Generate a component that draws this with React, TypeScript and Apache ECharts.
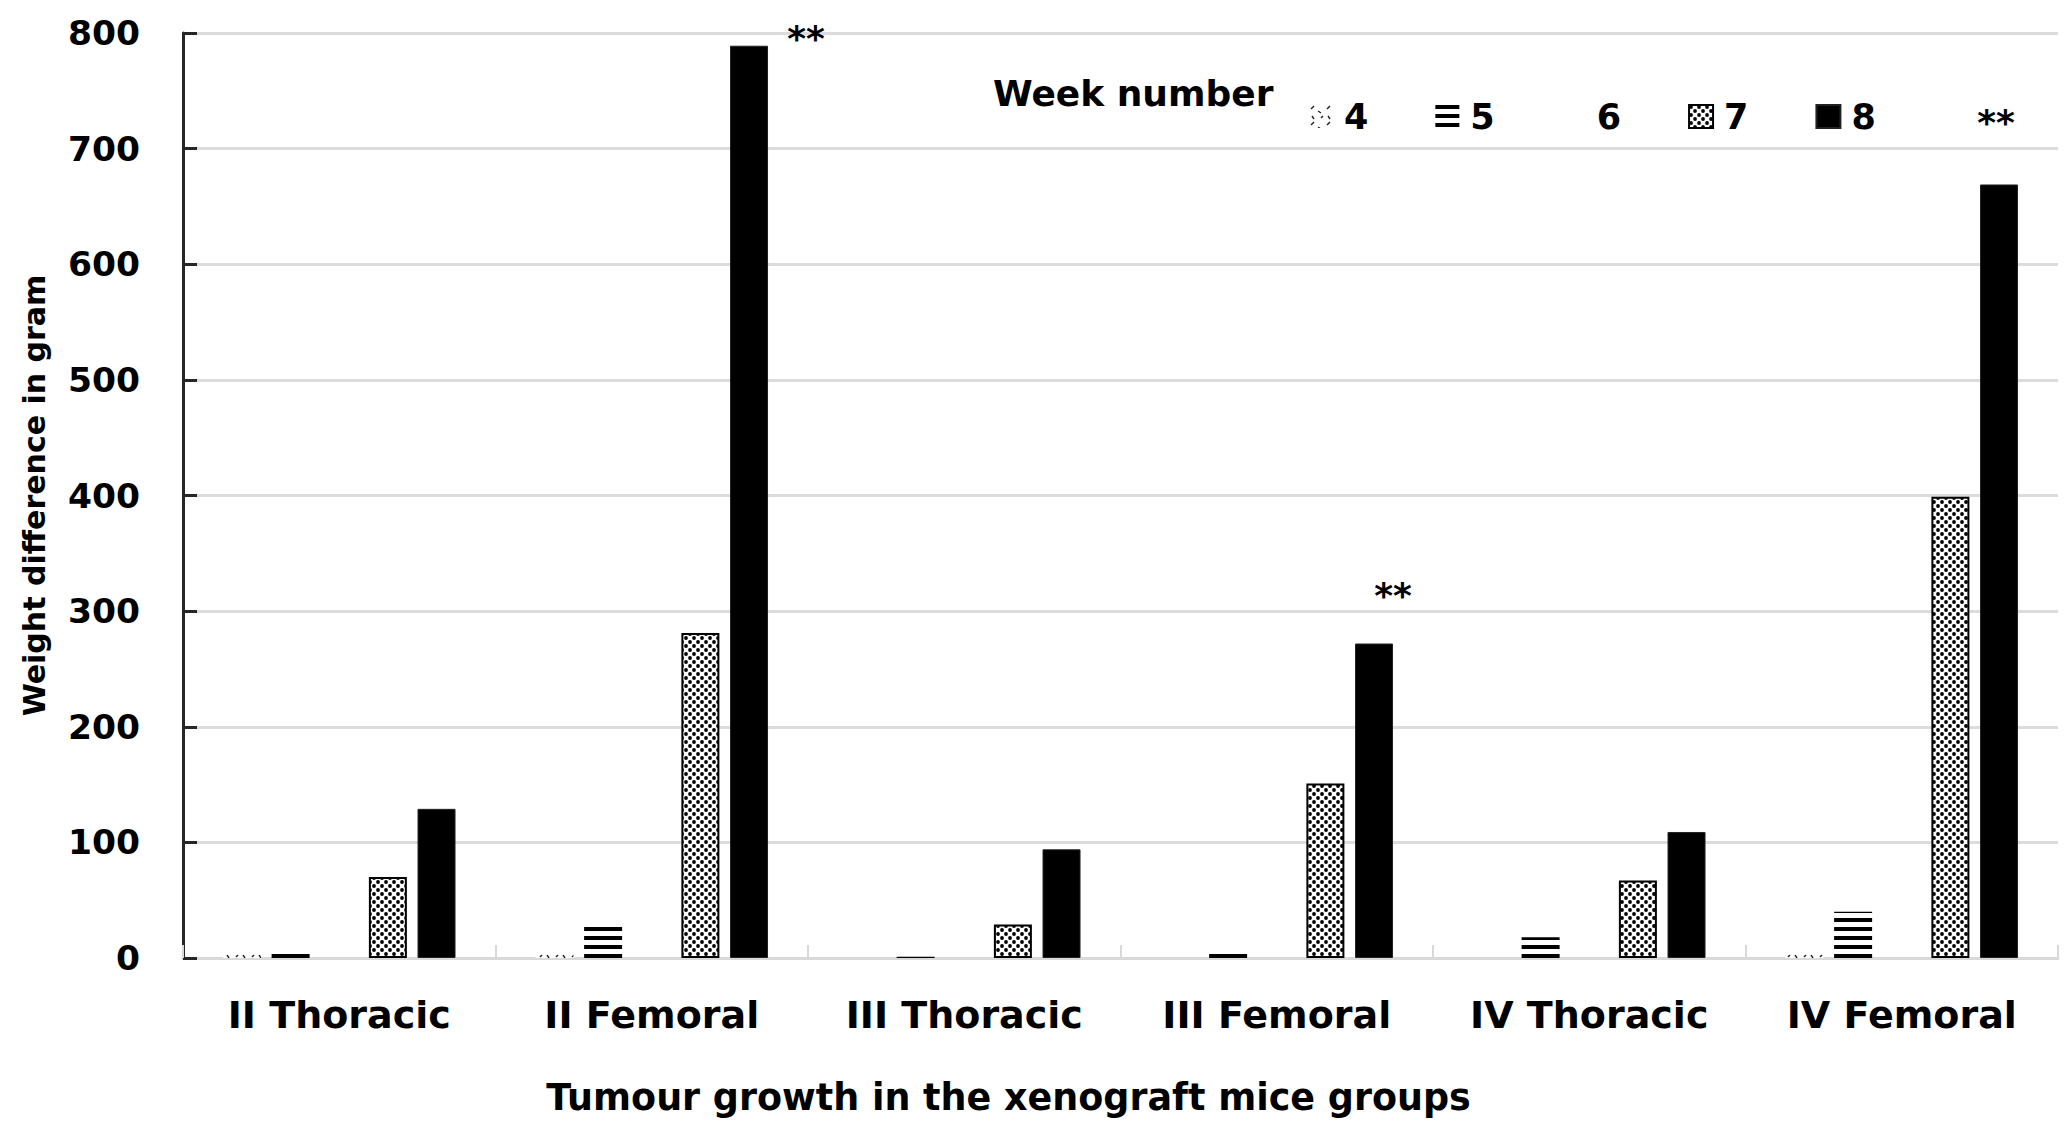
import React, { useEffect, useRef } from "react";
import * as echarts from "echarts";

const categories = ["II Thoracic", "II Femoral", "III Thoracic", "III Femoral", "IV Thoracic", "IV Femoral"];
const weekNames = ["4", "5", "6", "7", "8"];
const week4 = [3, 3, 0, 0, 0, 3];
const week5 = [4, 31, 1, 5, 18, 40];
const week6 = [0, 0, 0, 0, 0, 0];
const week7 = [70, 281, 29, 151, 67, 399];
const week8 = [129, 789, 94, 272, 109, 669];
const significance = ["", "**", "", "**", "", "**"];
const yMin = 0;
const yMax = 800;
const yInterval = 100;

// label placement styling for the significance marks
const starOffsets = [[0, 0], [57, 11], [0, 0], [19, -30], [0, 0], [-3, -44]];

const FONT = "DejaVu Sans";

function makeCanvas(w: number, h: number, draw: (c: CanvasRenderingContext2D) => void) {
  const cv = document.createElement("canvas");
  cv.width = w;
  cv.height = h;
  const ctx = cv.getContext("2d")!;
  ctx.fillStyle = "#ffffff";
  ctx.fillRect(0, 0, w, h);
  draw(ctx);
  return cv;
}

function sparsePattern() {
  return makeCanvas(16, 16, (c) => {
    c.strokeStyle = "#222";
    c.lineWidth = 1.4;
    const segs = [
      [2, 4, 5, 1],
      [9, 6, 12, 8],
      [3, 11, 5, 14],
      [12, 13, 14, 11],
    ];
    segs.forEach(([a, b, d, e]) => {
      c.beginPath();
      c.moveTo(a, b);
      c.lineTo(d, e);
      c.stroke();
    });
  });
}

function stripePattern() {
  return makeCanvas(8, 9, (c) => {
    c.fillStyle = "#000";
    c.fillRect(0, 0, 8, 4);
  });
}

function dotPattern() {
  return makeCanvas(8, 8, (c) => {
    c.fillStyle = "#000";
    [[2, 2], [6, 6]].forEach(([x, y]) => {
      c.beginPath();
      c.arc(x, y, 1.9, 0, Math.PI * 2);
      c.fill();
    });
  });
}

export default function App() {
  const ref = useRef<HTMLDivElement>(null);

  useEffect(() => {
    if (!ref.current) return;
    const chart = echarts.init(ref.current, undefined, { renderer: "svg" });

    const styles: any[] = [
      { color: { image: sparsePattern(), repeat: "repeat" } },
      { color: { image: stripePattern(), repeat: "repeat" } },
      { color: "#ffffff" },
      { color: { image: dotPattern(), repeat: "repeat" }, borderColor: "#000", borderWidth: 2 },
      { color: "#000000", borderColor: "#222", borderWidth: 1 },
    ];
    const values = [week4, week5, week6, week7, week8];

    const week8Data = week8.map((v, i) =>
      significance[i]
        ? {
            value: v,
            label: {
              show: true,
              formatter: significance[i],
              position: "top",
              distance: 0,
              offset: starOffsets[i],
              fontSize: 36,
              fontFamily: FONT,
              fontWeight: "bold",
              color: "#000",
            },
          }
        : v
    );

    const series = weekNames.map((name, k) => ({
      name,
      type: "bar",
      barWidth: 38,
      barGap: "28%",
      itemStyle: styles[k],
      emphasis: { disabled: true },
      data: k === 4 ? week8Data : values[k],
    }));

    chart.setOption({
      animation: false,
      backgroundColor: "#ffffff",
      title: {
        text: "Week number",
        left: 993,
        top: 75,
        padding: 0,
        textStyle: { fontFamily: FONT, fontWeight: "bold", fontSize: 36, color: "#000" },
      },
      legend: {
        data: weekNames,
        left: 1309,
        top: 99,
        padding: 0,
        icon: "rect",
        itemWidth: 24,
        itemHeight: 23,
        itemGap: 67,
        selectedMode: false,
        textStyle: {
          fontFamily: FONT,
          fontWeight: "bold",
          fontSize: 35,
          color: "#000",
          padding: [0, 0, 0, 6],
        },
      },
      grid: { left: 183, right: 13, top: 33, bottom: 178, containLabel: false },
      xAxis: {
        type: "category",
        data: categories,
        name: "Tumour growth in the xenograft mice groups",
        nameLocation: "middle",
        nameGap: 121,
        nameTextStyle: {
          fontFamily: FONT,
          fontWeight: "bold",
          fontSize: 36.5,
          color: "#000",
          padding: [0, 224, 0, 0],
        },
        axisLine: { show: true, lineStyle: { color: "#d9d9d9", width: 3 } },
        axisTick: { show: true, inside: true, length: 13, lineStyle: { color: "#d9d9d9", width: 2 } },
        axisLabel: {
          interval: 0,
          margin: 38,
          fontFamily: FONT,
          fontWeight: "bold",
          fontSize: 38,
          color: "#000",
        },
        splitLine: { show: false },
      },
      yAxis: {
        type: "value",
        min: yMin,
        max: yMax,
        interval: yInterval,
        name: "Weight difference in gram",
        nameLocation: "middle",
        nameGap: 134,
        nameTextStyle: { fontFamily: FONT, fontWeight: "bold", fontSize: 30, color: "#000" },
        axisLine: { show: true, lineStyle: { color: "#262626", width: 3 } },
        axisTick: { show: true, inside: true, length: 14, lineStyle: { color: "#262626", width: 3 } },
        axisLabel: { margin: 43, fontFamily: FONT, fontWeight: "bold", fontSize: 34.5, color: "#000" },
        splitLine: { show: true, lineStyle: { color: "#dcdcdc", width: 3 } },
      },
      series,
    });

    return () => chart.dispose();
  }, []);

  return (
    <div
      ref={ref}
      style={{ position: "fixed", left: 0, top: 0, width: 2071, height: 1136, background: "#fff" }}
    />
  );
}
